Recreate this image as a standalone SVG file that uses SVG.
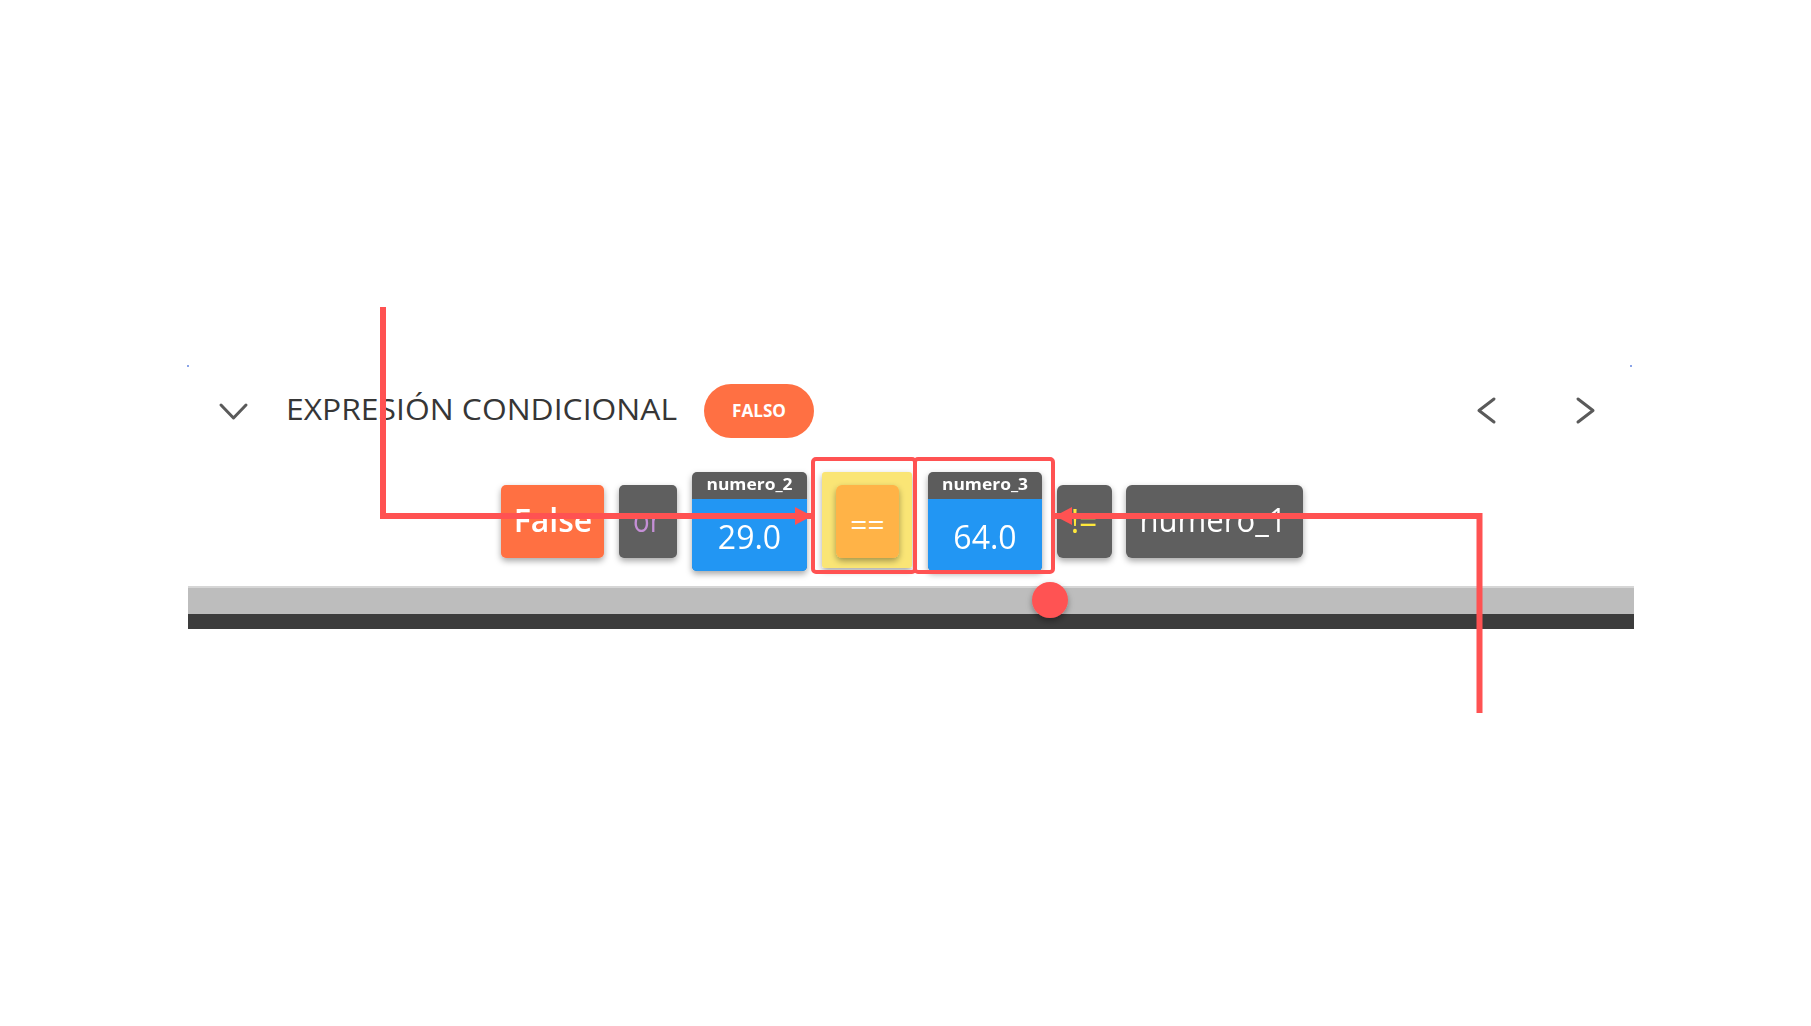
<svg xmlns="http://www.w3.org/2000/svg" width="1811" height="1026" viewBox="0 0 1811 1026">
  <style>
    .tok { font-family: "Open Sans", "Noto Sans", "Liberation Sans", sans-serif; text-anchor: middle; }
    .big { font-size: 32px; fill: #ffffff; }
    .hdr { font-size: 16px; font-weight: 700; fill: #ffffff; }
    .chev { fill: none; stroke: #5a5a5a; stroke-width: 3; stroke-linecap: round; stroke-linejoin: round; }
    .conn { fill: none; stroke: #ff5252; stroke-width: 6; }
    .hl { fill: none; stroke: #ff5252; stroke-width: 4; }
  </style>
  <defs>
    <filter id="sh" x="-20%" y="-20%" width="140%" height="150%">
      <feDropShadow dx="0" dy="3" stdDeviation="3" flood-color="#000" flood-opacity="0.35"/>
    </filter>
    <marker id="arr" viewBox="0 0 17 18" refX="17" refY="9" markerWidth="17" markerHeight="18" markerUnits="userSpaceOnUse" orient="auto">
      <path d="M0,0 L17,9 L0,18 Z" fill="#ff5252"/>
    </marker>
  </defs>
  <rect width="1811" height="1026" fill="#ffffff"/>

  <g id="frame-dots">
    <rect x="187" y="365" width="2" height="2" fill="#8aa4e8"/>
    <rect x="1630" y="365" width="2" height="2" fill="#8aa4e8"/>
  </g>

  <g id="header">
    <polyline class="chev" points="221,405 233.5,418 246,405"/>
    <text x="286" y="420" textLength="391" lengthAdjust="spacingAndGlyphs" style="font-family:'Open Sans','Noto Sans','Liberation Sans',sans-serif;font-size:30px;fill:#363636">EXPRESIÓN CONDICIONAL</text>
    <polyline class="chev" points="1494,399 1479,410.5 1494,422"/>
    <polyline class="chev" points="1578,399 1593,410.5 1578,422"/>
  </g>

  <g id="badge-falso">
    <rect x="704" y="384" width="110" height="54" rx="27" fill="#ff7043"/>
    <text class="tok" x="759" y="417" textLength="54" lengthAdjust="spacingAndGlyphs" style="font-size:17px;font-weight:700;fill:#ffffff">FALSO</text>
  </g>

  <g id="track">
    <rect x="188" y="586" width="1446" height="28" fill="#bdbdbd"/>
    <rect x="188" y="586" width="1446" height="2" fill="#d6d6d6"/>
    <rect x="188" y="614" width="1446" height="15" fill="#3c3c3c"/>
  </g>

  <g id="tok-false" filter="url(#sh)">
    <rect x="501" y="485" width="103" height="73" rx="5" fill="#ff7043"/>
    <text class="tok big" x="553" y="532" font-weight="600">False</text>
  </g>

  <g id="tok-or" filter="url(#sh)">
    <rect x="619" y="485" width="58" height="73" rx="5" fill="#5f5f5f"/>
    <text class="tok" x="647" y="532" textLength="28" lengthAdjust="spacingAndGlyphs" style="font-size:32px;fill:#c58fd6">or</text>
  </g>

  <g id="tok-numero2" filter="url(#sh)">
    <rect x="692" y="472" width="115" height="99" rx="5" fill="#5c5c5c"/>
    <path d="M692,499 H807 V566 Q807,571 802,571 H697 Q692,571 692,566 Z" fill="#2196f3"/>
    <text class="tok hdr" x="749.5" y="490" textLength="86" lengthAdjust="spacingAndGlyphs">numero_2</text>
    <text class="tok big" x="749.5" y="549">29.0</text>
  </g>

  <g id="tok-eq">
    <rect x="822" y="472" width="90" height="96" rx="3" fill="#fae575" filter="url(#sh)"/>
    <rect x="836" y="485" width="63" height="73" rx="6" fill="#ffb347" filter="url(#sh)"/>
    <text class="tok" x="867.5" y="535" style="font-size:30px;fill:#ffffff">==</text>
  </g>

  <g id="tok-numero3" filter="url(#sh)">
    <rect x="928" y="472" width="114" height="99" rx="5" fill="#5c5c5c"/>
    <path d="M928,499 H1042 V566 Q1042,571 1037,571 H933 Q928,571 928,566 Z" fill="#2196f3"/>
    <text class="tok hdr" x="985" y="490" textLength="86" lengthAdjust="spacingAndGlyphs">numero_3</text>
    <text class="tok big" x="985" y="549">64.0</text>
  </g>

  <g id="tok-neq" filter="url(#sh)">
    <rect x="1057" y="485" width="55" height="73" rx="6" fill="#5f5f5f"/>
    <text class="tok" x="1084" y="533" style="font-size:32px;fill:#ffe83b">!=</text>
  </g>

  <g id="tok-numero1" filter="url(#sh)">
    <rect x="1126" y="485" width="177" height="73" rx="6" fill="#5f5f5f"/>
    <text class="tok big" x="1213" y="532" textLength="147" lengthAdjust="spacingAndGlyphs">numero_1</text>
  </g>

  <g id="highlights">
    <rect class="hl" x="813" y="459" width="102" height="113" rx="3"/>
    <rect class="hl" x="915" y="459" width="138" height="113" rx="3"/>
  </g>

  <g id="slider-thumb">
    <circle cx="1050" cy="600" r="18" fill="#ff5252" filter="url(#sh)"/>
  </g>

  <g id="connectors">
    <path class="conn" d="M383,307 V516 H812" marker-end="url(#arr)"/>
    <path class="conn" d="M1479.5,713 V516 H1055" marker-end="url(#arr)"/>
  </g>
</svg>
